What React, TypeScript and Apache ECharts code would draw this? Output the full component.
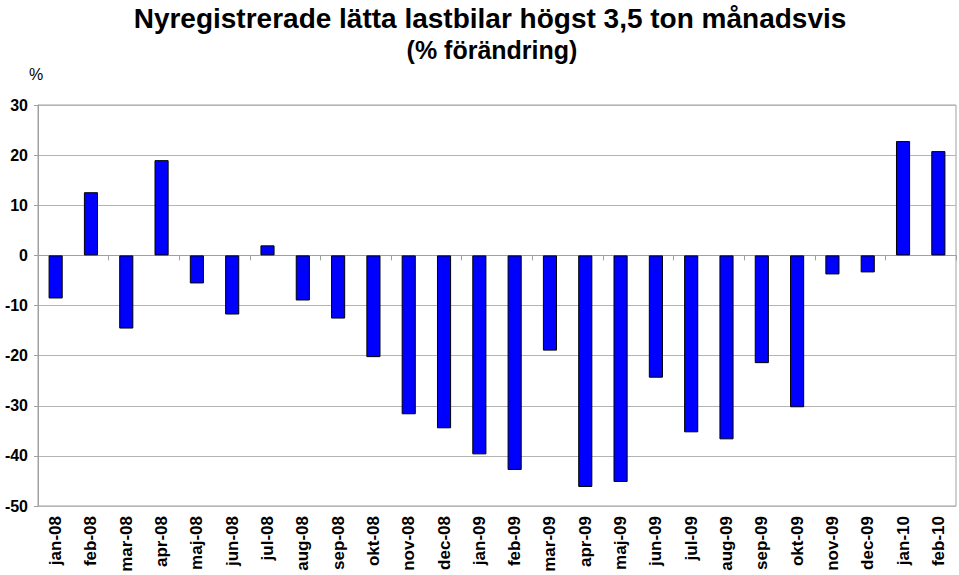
import React, { useEffect, useRef } from "react";
import * as echarts from "echarts";

const categories = [
  "jan-08", "feb-08", "mar-08", "apr-08", "maj-08", "jun-08", "jul-08", "aug-08",
  "sep-08", "okt-08", "nov-08", "dec-08", "jan-09", "feb-09", "mar-09", "apr-09",
  "maj-09", "jun-09", "jul-09", "aug-09", "sep-09", "okt-09", "nov-09", "dec-09",
  "jan-10", "feb-10",
];

const changePct = [
  -8.6, 12.6, -14.6, 19.0, -5.6, -11.8, 2.0, -9.0,
  -12.6, -20.3, -31.7, -34.5, -39.7, -42.8, -19.0, -46.2,
  -45.2, -24.4, -35.3, -36.7, -21.5, -30.3, -3.8, -3.4,
  22.8, 20.8,
];

const titleText = "Nyregistrerade lätta lastbilar högst 3,5 ton månadsvis";
const subtitleText = "(% förändring)";
const unitText = "%";

const FONT = "'Liberation Sans', Arial, Helvetica, sans-serif";

export default function App() {
  const ref = useRef<HTMLDivElement>(null);

  useEffect(() => {
    if (!ref.current) return;
    const chart = echarts.init(ref.current, undefined, { renderer: "svg" });
    chart.setOption({
      animation: false,
      backgroundColor: "#ffffff",
      textStyle: { fontFamily: FONT },
      title: [
        {
          text: titleText,
          left: 485,
          textAlign: "center",
          top: -1,
          textStyle: { fontFamily: FONT, fontSize: 28, fontWeight: "bold", color: "#000" },
        },
        {
          text: subtitleText,
          left: 487,
          textAlign: "center",
          top: 32,
          textStyle: { fontFamily: FONT, fontSize: 25, fontWeight: "bold", color: "#000" },
        },
        {
          text: unitText,
          left: 24,
          top: 61,
          textStyle: { fontFamily: FONT, fontSize: 16, fontWeight: "normal", color: "#000" },
        },
      ],
      grid: { left: 38, top: 105, right: 3, bottom: 69, show: true, borderColor: "#a0a0a0", borderWidth: 1 },
      xAxis: [
        {
          type: "category",
          data: categories,
          position: "bottom",
          axisLine: { show: false, onZero: false },
          axisTick: { show: false },
          axisLabel: {
            rotate: 90,
            interval: 0,
            margin: 10,
            fontFamily: FONT,
            fontSize: 17,
            fontWeight: "bold",
            color: "#000",
          },
        },
        {
          type: "category",
          data: categories,
          position: "bottom",
          axisLine: { show: true, onZero: true, lineStyle: { color: "#a0a0a0", width: 1 } },
          axisTick: { show: true, length: 5, inside: false, lineStyle: { color: "#a0a0a0" } },
          axisLabel: { show: false },
        },
      ],
      yAxis: {
        type: "value",
        min: -50,
        max: 30,
        interval: 10,
        axisLine: { show: true, lineStyle: { color: "#a0a0a0" } },
        axisTick: { show: true, length: 4, lineStyle: { color: "#a0a0a0" } },
        splitLine: { show: true, lineStyle: { color: "#b4b4b4", width: 1 } },
        axisLabel: {
          margin: 10,
          fontFamily: FONT,
          fontSize: 16,
          fontWeight: "bold",
          color: "#000",
        },
      },
      series: [
        {
          type: "bar",
          xAxisIndex: 0,
          data: changePct,
          barWidth: "40%",
          itemStyle: { color: "#0000ff", borderColor: "#000", borderWidth: 1 },
        },
      ],
    });
    return () => chart.dispose();
  }, []);

  return <div ref={ref} style={{ width: 959, height: 575, position: "absolute", left: 0, top: 0 }} />;
}
